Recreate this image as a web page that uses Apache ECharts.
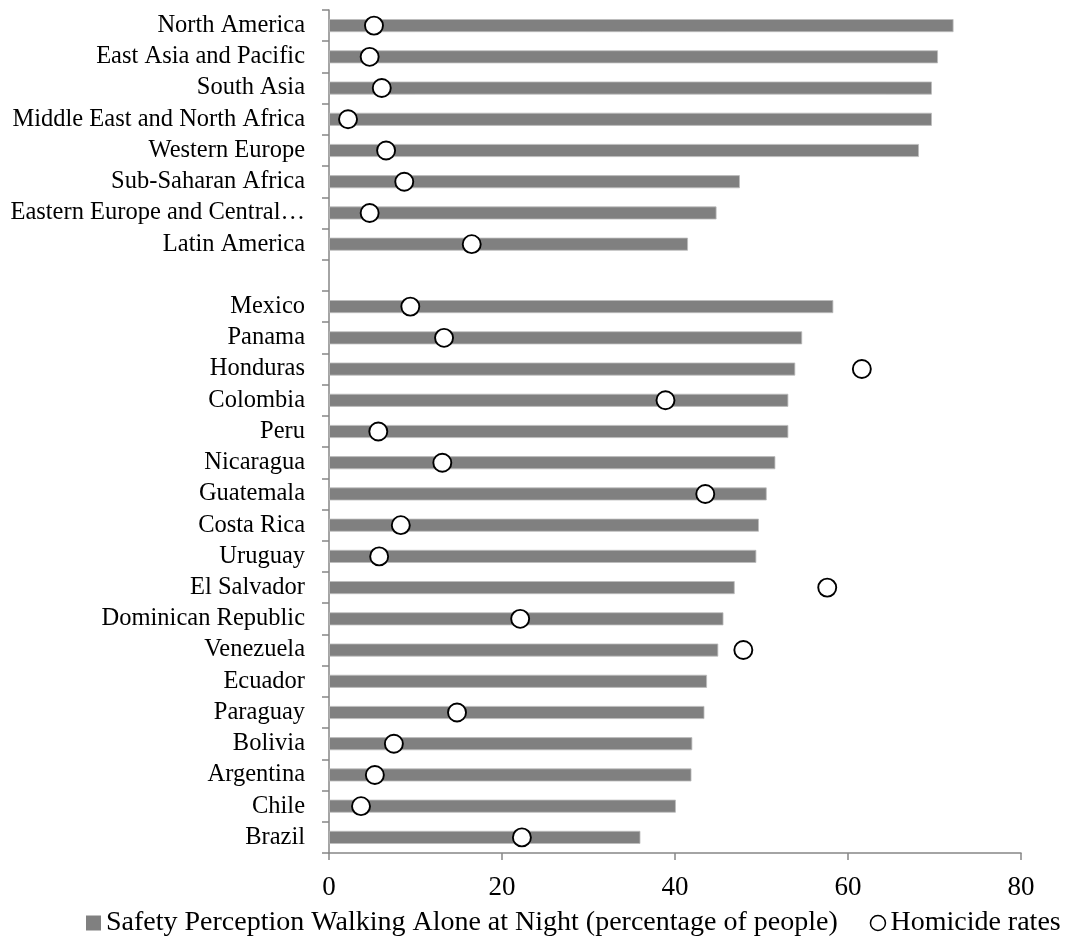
<!DOCTYPE html>
<html>
<head>
<meta charset="utf-8">
<script src="https://cdn.jsdelivr.net/npm/echarts@6/dist/echarts.min.js"></script>
<style>
html,body{margin:0;padding:0;background:#fff;}
#chart{width:1068px;height:937px;}
</style>
</head>
<body>
<div id="chart"></div>
<script>
const categories = ['North America','East Asia and Pacific','South Asia','Middle East and North Africa','Western Europe','Sub-Saharan Africa','Eastern Europe and Central…','Latin America','','Mexico','Panama','Honduras','Colombia','Peru','Nicaragua','Guatemala','Costa Rica','Uruguay','El Salvador','Dominican Republic','Venezuela','Ecuador','Paraguay','Bolivia','Argentina','Chile','Brazil'];
const safety = [72.2,70.4,69.7,69.7,68.2,47.5,44.8,41.5,null,58.3,54.7,53.9,53.1,53.1,51.6,50.6,49.7,49.4,46.9,45.6,45.0,43.7,43.4,42.0,41.9,40.1,36.0];
const homicide = [5.2,4.7,6.1,2.2,6.6,8.7,4.7,16.5,null,9.4,13.3,61.6,38.9,5.7,13.1,43.5,8.3,5.8,57.6,22.1,47.9,null,14.8,7.5,5.3,3.7,22.3];
const xTicks = [0,20,40,60,80];
const seriesNames = ['Safety Perception Walking Alone at Night (percentage of people)','Homicide rates'];

const FONT = '"Liberation Serif", "Times New Roman", serif';
const homicidePoints = [];
homicide.forEach((v,i)=>{ if(v!==null) homicidePoints.push([v,i]); });

const chart = echarts.init(document.getElementById('chart'));
chart.setOption({
  animation:false,
  backgroundColor:'#fff',
  textStyle:{fontFamily:FONT,color:'#000'},
  grid:{left:329,right:47,top:10,bottom:84,containLabel:false},
  legend:{
    left:86, top:909, width:1000, orient:'horizontal', padding:0,
    itemWidth:15, itemHeight:15, itemGap:32,
    textStyle:{fontFamily:FONT,fontSize:28,color:'#000'},
    data:[
      {name:seriesNames[0],icon:'rect',itemStyle:{color:'#808080',borderWidth:0}},
      {name:seriesNames[1],icon:'circle',itemStyle:{color:'#fff',borderColor:'#000',borderWidth:1.5}}
    ]
  },
  xAxis:{
    type:'value',min:xTicks[0],max:xTicks[xTicks.length-1],interval:20,
    axisLine:{show:true,lineStyle:{color:'#868686',width:1.5}},
    axisTick:{show:true,length:7,lineStyle:{color:'#868686',width:1.5}},
    splitLine:{show:false},
    axisLabel:{fontFamily:FONT,fontSize:27,color:'#000',margin:21}
  },
  yAxis:{
    type:'category',data:categories,inverse:true,
    axisLine:{show:true,lineStyle:{color:'#868686',width:1.5}},
    axisTick:{show:true,length:7,alignWithLabel:false,lineStyle:{color:'#868686',width:1.5}},
    axisLabel:{fontFamily:FONT,fontSize:24.5,color:'#000',margin:24,interval:0}
  },
  series:[
    {
      name:seriesNames[0],type:'bar',data:safety,barWidth:13,
      itemStyle:{color:'#808080',borderColor:'#bdbdbd',borderWidth:0.8}
    },
    {
      name:seriesNames[1],type:'scatter',data:homicidePoints,symbol:'circle',symbolSize:18,
      itemStyle:{color:'#fff',borderColor:'#000',borderWidth:1.9,opacity:1},
      z:5
    }
  ]
});
</script>
</body>
</html>
